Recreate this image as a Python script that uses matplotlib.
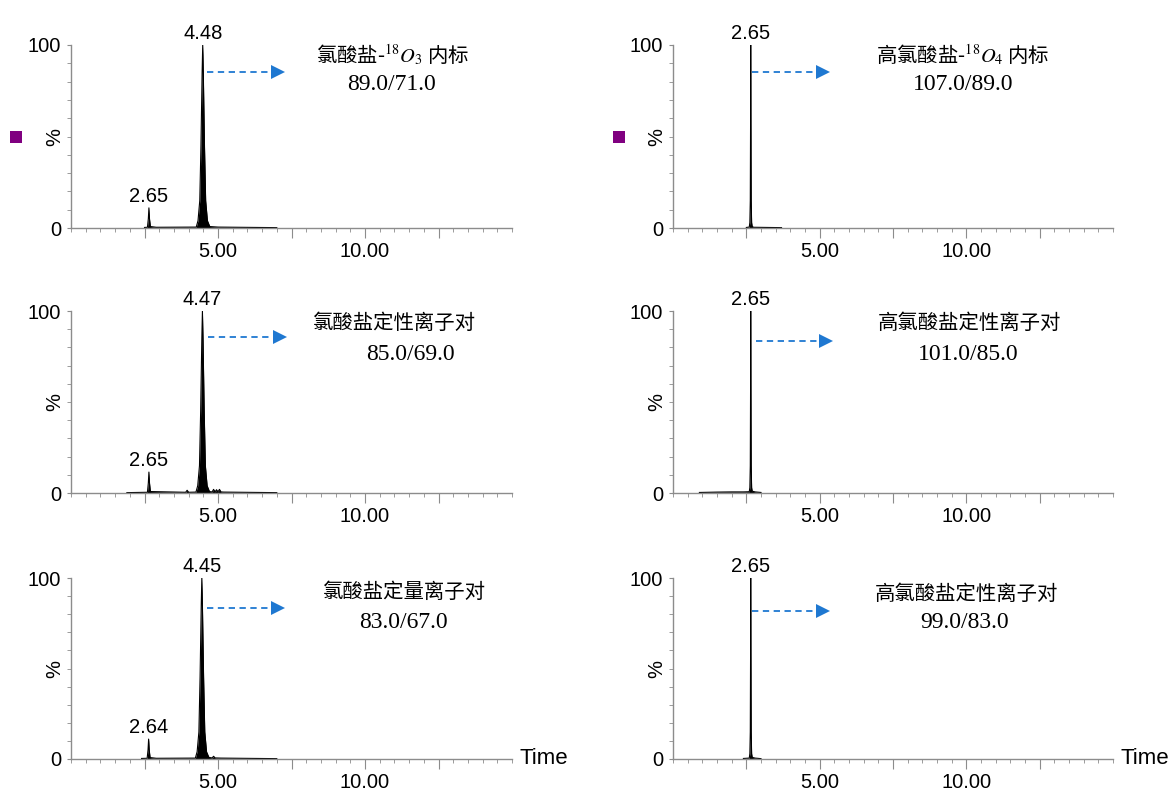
import matplotlib
matplotlib.use("Agg")
import matplotlib.pyplot as plt
from matplotlib.patches import Rectangle
from matplotlib.ticker import FixedLocator, FixedFormatter, MultipleLocator

plt.rcParams['font.family'] = ['Liberation Sans', 'DejaVu Sans']
plt.rcParams['mathtext.fontset'] = 'stix'

CJK = ['Noto Sans CJK SC', 'DejaVu Sans']
SERIF = ['Liberation Serif', 'DejaVu Serif']

# chromatogram traces (time in min, intensity in %)
# left column: chlorate channels
t_L1 = [2.50, 2.60, 2.63, 2.65, 2.67, 2.70, 2.90, 4.26, 4.32, 4.38, 4.42, 4.46, 4.48,
        4.50, 4.54, 4.58, 4.64, 4.72, 5.00, 7.00]
i_L1 = [0.3, 0.4, 5.0, 11.0, 5.0, 0.8, 0.4, 0.5, 4.0, 15.0, 45.0, 85.0, 100.0,
        85.0, 45.0, 15.0, 4.0, 0.8, 0.5, 0.2]

t_L2 = [1.90, 2.60, 2.63, 2.65, 2.67, 2.70, 3.90, 3.95, 4.00, 4.25, 4.31, 4.37, 4.41,
        4.45, 4.47, 4.49, 4.53, 4.57, 4.63, 4.71, 4.80, 4.85, 4.90, 4.95, 5.00, 5.05,
        5.10, 5.20, 7.00]
i_L2 = [0.2, 0.4, 5.5, 11.5, 5.5, 0.8, 0.4, 1.5, 0.4, 0.5, 4.0, 15.0, 45.0,
        85.0, 100.0, 85.0, 45.0, 15.0, 4.0, 0.8, 0.6, 2.0, 0.6, 1.8, 0.6, 2.0,
        0.6, 0.5, 0.2]

t_L3 = [2.40, 2.59, 2.62, 2.64, 2.66, 2.69, 2.90, 4.23, 4.29, 4.35, 4.39, 4.43, 4.45,
        4.47, 4.51, 4.55, 4.61, 4.69, 4.80, 4.85, 4.90, 5.10, 7.00]
i_L3 = [0.3, 0.4, 5.0, 11.0, 5.0, 0.8, 0.4, 0.5, 4.0, 15.0, 45.0, 85.0, 100.0,
        85.0, 45.0, 15.0, 4.0, 0.9, 0.6, 1.5, 0.6, 0.5, 0.2]

# right column: perchlorate channels
t_R1 = [2.50, 2.60, 2.62, 2.635, 2.645, 2.65, 2.655, 2.665, 2.68, 2.70, 2.75, 3.70]
i_R1 = [0.3, 0.5, 3.0, 15.0, 60.0, 100.0, 60.0, 15.0, 3.0, 0.8, 0.4, 0.2]

t_R2 = [0.90, 1.50, 2.00, 2.40, 2.60, 2.62, 2.635, 2.645, 2.65, 2.655, 2.665, 2.68,
        2.70, 2.80, 3.00]
i_R2 = [0.3, 0.5, 0.6, 0.6, 0.7, 3.0, 15.0, 60.0, 100.0, 60.0, 15.0, 3.0,
        1.0, 0.6, 0.3]

t_R3 = [2.40, 2.60, 2.62, 2.635, 2.645, 2.65, 2.655, 2.665, 2.68, 2.70, 2.80, 3.00]
i_R3 = [0.3, 0.5, 3.0, 15.0, 60.0, 100.0, 60.0, 15.0, 3.0, 0.9, 0.5, 0.2]

peaks_L1 = [(4.48, 100, '4.48'), (2.65, 11.0, '2.65')]
peaks_L2 = [(4.47, 100, '4.47'), (2.65, 11.5, '2.65')]
peaks_L3 = [(4.45, 100, '4.45'), (2.64, 11.0, '2.64')]
peaks_R = [(2.65, 100, '2.65')]

titles = [r'氯酸盐-$^{18}\mathit{O}_{3}$ 内标', '氯酸盐定性离子对', '氯酸盐定量离子对',
          r'高氯酸盐-$^{18}\mathit{O}_{4}$ 内标', '高氯酸盐定性离子对', '高氯酸盐定性离子对']
transitions = ['89.0/71.0', '85.0/69.0', '83.0/67.0',
               '107.0/89.0', '101.0/85.0', '99.0/83.0']

W, H = 1174, 792
fig = plt.figure(figsize=(W / 100, H / 100), dpi=100)

rows = [(228, 183), (493, 182), (759, 181)]
cols = [(71, 441), (673, 440)]

traces = [[(t_L1, i_L1, peaks_L1), (t_L2, i_L2, peaks_L2), (t_L3, i_L3, peaks_L3)],
          [(t_R1, i_R1, peaks_R), (t_R2, i_R2, peaks_R), (t_R3, i_R3, peaks_R)]]

# arrow (start, end, height) per panel, and text centres in pixels
arrows = [[(4.61, 7.05, 85.2), (4.65, 7.12, 85.7), (4.61, 7.05, 83.4)],
          [(2.70, 5.11, 85.2), (2.84, 5.21, 83.5), (2.70, 5.11, 81.8)]]
text_pos = [[((392, 55), (392, 85)), ((394, 323), (410, 354)), ((404, 592), (403, 622))],
            [((963, 55), (963, 85)), ((969, 323), (968, 354)), ((966, 594), (965, 623))]]

grey = '#8c8c8c'
blue = '#1f78d1'
for c, (x0, w) in enumerate(cols):
    for r, (y0, h) in enumerate(rows):
        ax = fig.add_axes([x0 / W, 1 - y0 / H, w / W, h / H])
        t, inten, peaks = traces[c][r]
        ax.fill_between(t, inten, 0, color='black', lw=0)
        ax.plot(t, inten, color='black', lw=0.8)
        ax.set_xlim(0, 15)
        ax.set_ylim(0, 100)
        for s in ['top', 'right']:
            ax.spines[s].set_visible(False)
        for s in ['left', 'bottom']:
            ax.spines[s].set_color(grey)
            ax.spines[s].set_linewidth(1.0)
        ax.xaxis.set_major_locator(FixedLocator([2.5, 5, 7.5, 10, 12.5]))
        ax.xaxis.set_major_formatter(FixedFormatter(['', '5.00', '', '10.00', '']))
        ax.xaxis.set_minor_locator(MultipleLocator(0.5))
        ax.yaxis.set_major_locator(FixedLocator([0, 100]))
        ax.yaxis.set_major_formatter(FixedFormatter(['0', '100']))
        ax.yaxis.set_minor_locator(MultipleLocator(10))
        ax.tick_params(axis='x', which='major', length=7, color=grey, labelsize=14.5, pad=3)
        ax.tick_params(axis='x', which='minor', length=3, color=grey)
        ax.tick_params(axis='y', which='both', length=3, color=grey, labelsize=14.5, pad=4)
        ax.text(-0.036, 0.5, '%', transform=ax.transAxes, rotation=90,
                ha='center', va='center', fontsize=14.5)
        for pt, ph, lab in peaks:
            ax.annotate(lab, (pt, ph), xytext=(0, 1.5), textcoords='offset points',
                        ha='center', va='bottom', fontsize=14.5, annotation_clip=False)
        a0, a1, ay = arrows[c][r]
        ax.plot([a0, a1], [ay, ay], color=blue, lw=1.3, linestyle=(0, (3.5, 2.5)))
        ax.plot([a1], [ay], marker='>', color=blue, markersize=10, markeredgewidth=0)
        if r == 2:
            ax.text(1.018, 0.0, 'Time', transform=ax.transAxes, ha='left',
                    va='center', fontsize=16)
        (tx, ty), (sx, sy) = text_pos[c][r]
        fig.text(tx / W, 1 - ty / H, titles[c * 3 + r], family=CJK, fontsize=14.7,
                 ha='center', va='center')
        fig.text(sx / W, 1 - sy / H, transitions[c * 3 + r], family=SERIF, fontsize=17,
                 ha='center', va='center')

# purple channel markers
for mx in [16, 619]:
    fig.add_artist(Rectangle(((mx - 6) / W, 1 - (137 + 6) / H), 12 / W, 12 / H,
                             transform=fig.transFigure, color='#800080', lw=0))

fig.savefig('out.png', dpi=100)
